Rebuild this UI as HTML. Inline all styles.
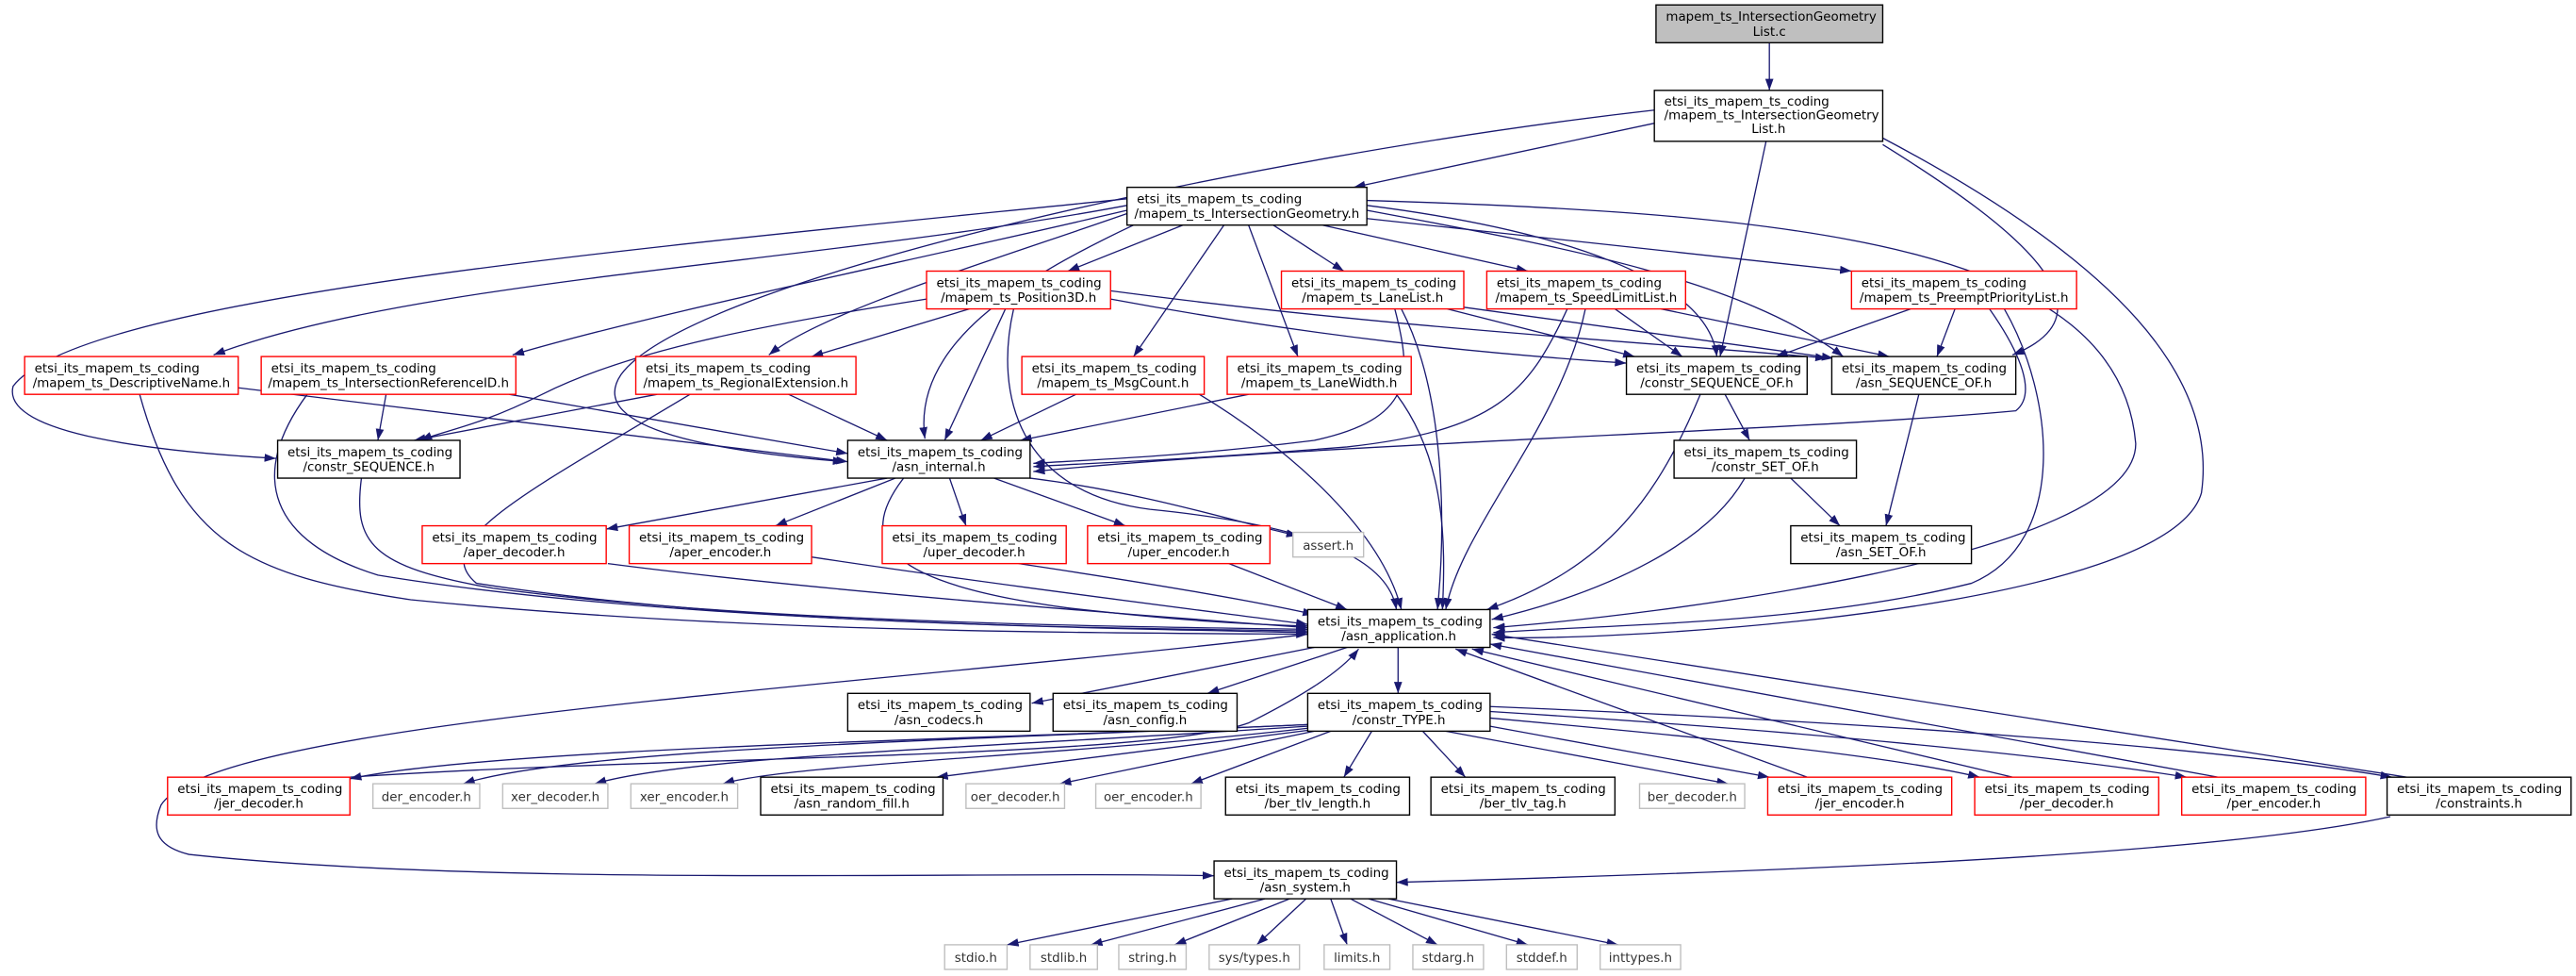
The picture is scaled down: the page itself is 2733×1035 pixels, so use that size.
<!DOCTYPE html>
<html><head><meta charset="utf-8"><style>
html,body{margin:0;padding:0;background:#fff;}
svg{display:block;}
text{font-family:"DejaVu Sans","Liberation Sans",sans-serif;font-size:7.7px;fill:#000;}
.g text{fill:#333;}
.e{fill:none;stroke:#191970;stroke-width:0.75;marker-end:url(#a);}
.b{fill:#fff;stroke:#000;stroke-width:0.8;}
.r{fill:#fff;stroke:#ff0000;stroke-width:0.8;}
.gy{fill:#fff;stroke:#bfbfbf;stroke-width:0.8;}
</style></head><body>
<svg width="2733" height="1035" viewBox="0 0 1568 594" preserveAspectRatio="none" xmlns="http://www.w3.org/2000/svg">
<defs><marker id="a" markerUnits="userSpaceOnUse" markerWidth="7" markerHeight="6" refX="7" refY="2.5" orient="auto"><path d="M0,0 L7,2.5 L0,5 z" fill="#191970"/></marker></defs>
<g>
<path class="e" d="M1077,26 L1077,55"/>
<path class="e" d="M1007,75 L824,114"/>
<path class="e" d="M1007,67 C760,95 420,170 378,228 C355,262 440,275 514,281"/>
<path class="e" d="M1075,86 L1047,217"/>
<path class="e" d="M1146,88 C1230,140 1290,190 1225,216"/>
<path class="e" d="M1146,84 C1290,160 1350,230 1340,300 C1320,370 1000,390 909,388"/>
<path class="e" d="M686,125 C500,160 250,170 130,216"/>
<path class="e" d="M686,128 C550,160 400,190 312,216"/>
<path class="e" d="M686,121 C400,150 50,180 8,235 C0,265 100,275 168,279"/>
<path class="e" d="M686,130 C600,160 500,190 468,216"/>
<path class="e" d="M720,137 L650,165"/>
<path class="e" d="M690,137 C620,170 555,210 563,267"/>
<path class="e" d="M745,137 L690,217"/>
<path class="e" d="M760,137 L790,217"/>
<path class="e" d="M775,137 L818,165"/>
<path class="e" d="M805,137 L930,165"/>
<path class="e" d="M832,133 L1127,165"/>
<path class="e" d="M832,125 C950,140 1040,170 1045,217"/>
<path class="e" d="M832,128 C950,150 1060,170 1122,217"/>
<path class="e" d="M832,122 C1100,130 1290,150 1300,270 C1300,340 1000,375 909,382"/>
<path class="e" d="M590,188 L494,217"/>
<path class="e" d="M564,182 C450,200 380,215 330,240 C290,260 270,262 256,268"/>
<path class="e" d="M612,188 L575,268"/>
<path class="e" d="M617,188 C605,240 620,300 700,310 C800,320 845,340 850,371"/>
<path class="e" d="M676,182 C800,205 900,215 990,221"/>
<path class="e" d="M676,177 C850,200 1000,208 1112,218"/>
<path class="e" d="M881,188 L995,217"/>
<path class="e" d="M891,187 L1116,218"/>
<path class="e" d="M849,188 C860,230 860,255 800,268 C720,278 660,280 629,282"/>
<path class="e" d="M853,188 C880,240 880,320 875,371"/>
<path class="e" d="M954,188 C930,240 910,262 820,272 C720,280 660,282 629,284"/>
<path class="e" d="M965,188 C950,260 890,320 880,371"/>
<path class="e" d="M983,188 L1024,217"/>
<path class="e" d="M1011,188 L1150,217"/>
<path class="e" d="M1163,188 L1081,217"/>
<path class="e" d="M1190,188 L1179,217"/>
<path class="e" d="M1211,188 C1230,215 1240,240 1227,250 C1100,262 800,270 629,287"/>
<path class="e" d="M1220,188 C1250,240 1260,330 1200,355 C1100,380 980,380 909,385"/>
<path class="e" d="M1050,240 L1065,268"/>
<path class="e" d="M1035,240 C1010,300 980,345 905,371"/>
<path class="e" d="M1168,240 L1148,320"/>
<path class="e" d="M1090,291 L1120,320"/>
<path class="e" d="M1062,291 C1040,330 980,360 908,377"/>
<path class="e" d="M655,240 L597,268"/>
<path class="e" d="M730,240 C780,270 840,320 853,371"/>
<path class="e" d="M760,240 L621,268"/>
<path class="e" d="M850,240 C880,280 880,330 878,371"/>
<path class="e" d="M145,236 L516,281"/>
<path class="e" d="M85,240 C110,330 150,350 250,365 C450,385 650,385 796,386"/>
<path class="e" d="M235,240 L230,268"/>
<path class="e" d="M310,240 L516,276"/>
<path class="e" d="M187,240 C150,290 165,330 230,350 C400,378 650,382 796,385"/>
<path class="e" d="M400,240 L252,268"/>
<path class="e" d="M480,240 L540,268"/>
<path class="e" d="M420,240 C320,300 260,330 290,355 C450,380 650,382 796,384"/>
<path class="e" d="M220,291 C215,330 225,345 300,358 C450,378 650,381 796,383"/>
<path class="e" d="M540,291 L369,322"/>
<path class="e" d="M545,291 L472,320"/>
<path class="e" d="M578,291 L588,320"/>
<path class="e" d="M605,291 L685,320"/>
<path class="e" d="M627,291 C700,300 760,320 790,326"/>
<path class="e" d="M550,291 C520,330 540,355 650,370 C720,378 760,380 796,381"/>
<path class="e" d="M370,343 C500,360 700,375 796,382"/>
<path class="e" d="M494,339 C600,355 720,370 796,380"/>
<path class="e" d="M620,343 C700,355 760,365 800,374"/>
<path class="e" d="M748,343 L820,371"/>
<path class="e" d="M800,394 L628,428"/>
<path class="e" d="M820,394 L735,422"/>
<path class="e" d="M851,394 L851,422"/>
<path class="e" d="M796,386 C500,420 130,440 98,490 C92,505 95,515 115,520 C300,540 600,530 739,533"/>
<path class="e" d="M1455,497 C1350,520 1100,530 850,537"/>
<path class="e" d="M796,441 C600,450 300,455 213,474"/>
<path class="e" d="M796,441 C600,450 350,455 282,477"/>
<path class="e" d="M796,442 C600,455 420,460 362,477"/>
<path class="e" d="M798,443 C650,460 480,465 440,477"/>
<path class="e" d="M800,444 L570,473"/>
<path class="e" d="M800,445 L645,477"/>
<path class="e" d="M810,445 L725,477"/>
<path class="e" d="M835,445 L818,473"/>
<path class="e" d="M866,445 L892,473"/>
<path class="e" d="M880,445 L1052,477"/>
<path class="e" d="M907,442 L1077,473"/>
<path class="e" d="M907,437 C1050,450 1150,460 1205,473"/>
<path class="e" d="M907,433 C1100,445 1250,460 1331,473"/>
<path class="e" d="M907,430 C1150,440 1350,455 1456,473"/>
<path class="e" d="M213,473 C400,460 700,462 760,440 C790,425 815,410 827,395"/>
<path class="e" d="M1100,473 L886,395"/>
<path class="e" d="M1225,473 L896,395"/>
<path class="e" d="M1350,473 L907,392"/>
<path class="e" d="M1465,473 L908,386"/>
<path class="e" d="M750,547 L613,575"/>
<path class="e" d="M770,547 L664,575"/>
<path class="e" d="M785,547 L715,575"/>
<path class="e" d="M795,547 L765,575"/>
<path class="e" d="M810,547 L820,575"/>
<path class="e" d="M822,547 L875,575"/>
<path class="e" d="M833,547 L930,575"/>
<path class="e" d="M845,547 L985,575"/>
</g>
<g>
<rect x="1008" y="3" width="138" height="23" fill="#bfbfbf" stroke="#000" stroke-width="0.8"/>
<text x="1014" y="12.7">mapem_ts_IntersectionGeometry</text><text x="1077" y="21.7" text-anchor="middle">List.c</text>
<rect class="b" x="1007" y="55" width="139" height="31"/>
<text x="1013" y="64.3">etsi_its_mapem_ts_coding</text><text x="1013" y="72.7">/mapem_ts_IntersectionGeometry</text><text x="1076.5" y="80.9" text-anchor="middle">List.h</text>
<rect class="b" x="686" y="114" width="146" height="23"/>
<text x="692" y="123.7">etsi_its_mapem_ts_coding</text><text x="759" y="132.7" text-anchor="middle">/mapem_ts_IntersectionGeometry.h</text>
</g>
<g>
<rect class="r" x="564" y="165" width="112" height="23"/><text x="570" y="174.7">etsi_its_mapem_ts_coding</text><text x="620" y="183.7" text-anchor="middle">/mapem_ts_Position3D.h</text>
<rect class="r" x="780" y="165" width="111" height="23"/><text x="786" y="174.7">etsi_its_mapem_ts_coding</text><text x="835.5" y="183.7" text-anchor="middle">/mapem_ts_LaneList.h</text>
<rect class="r" x="905" y="165" width="121" height="23"/><text x="911" y="174.7">etsi_its_mapem_ts_coding</text><text x="965.5" y="183.7" text-anchor="middle">/mapem_ts_SpeedLimitList.h</text>
<rect class="r" x="1127" y="165" width="137" height="23"/><text x="1133" y="174.7">etsi_its_mapem_ts_coding</text><text x="1195.5" y="183.7" text-anchor="middle">/mapem_ts_PreemptPriorityList.h</text>
<rect class="r" x="15" y="217" width="130" height="23"/><text x="21" y="226.7">etsi_its_mapem_ts_coding</text><text x="80" y="235.7" text-anchor="middle">/mapem_ts_DescriptiveName.h</text>
<rect class="r" x="159" y="217" width="155" height="23"/><text x="165" y="226.7">etsi_its_mapem_ts_coding</text><text x="236.5" y="235.7" text-anchor="middle">/mapem_ts_IntersectionReferenceID.h</text>
<rect class="r" x="387" y="217" width="134" height="23"/><text x="393" y="226.7">etsi_its_mapem_ts_coding</text><text x="454" y="235.7" text-anchor="middle">/mapem_ts_RegionalExtension.h</text>
<rect class="r" x="622" y="217" width="111" height="23"/><text x="628" y="226.7">etsi_its_mapem_ts_coding</text><text x="677.5" y="235.7" text-anchor="middle">/mapem_ts_MsgCount.h</text>
<rect class="r" x="747" y="217" width="112" height="23"/><text x="753" y="226.7">etsi_its_mapem_ts_coding</text><text x="803" y="235.7" text-anchor="middle">/mapem_ts_LaneWidth.h</text>
<rect class="b" x="990" y="217" width="110" height="23"/><text x="996" y="226.7">etsi_its_mapem_ts_coding</text><text x="1045" y="235.7" text-anchor="middle">/constr_SEQUENCE_OF.h</text>
<rect class="b" x="1115" y="217" width="112" height="23"/><text x="1121" y="226.7">etsi_its_mapem_ts_coding</text><text x="1171" y="235.7" text-anchor="middle">/asn_SEQUENCE_OF.h</text>
<rect class="b" x="169" y="268" width="111" height="23"/><text x="175" y="277.7">etsi_its_mapem_ts_coding</text><text x="224.5" y="286.7" text-anchor="middle">/constr_SEQUENCE.h</text>
<rect class="b" x="516" y="268" width="111" height="23"/><text x="522" y="277.7">etsi_its_mapem_ts_coding</text><text x="571.5" y="286.7" text-anchor="middle">/asn_internal.h</text>
<rect class="b" x="1019" y="268" width="111" height="23"/><text x="1025" y="277.7">etsi_its_mapem_ts_coding</text><text x="1074.5" y="286.7" text-anchor="middle">/constr_SET_OF.h</text>
<rect class="r" x="257" y="320" width="112" height="23"/><text x="263" y="329.7">etsi_its_mapem_ts_coding</text><text x="313" y="338.7" text-anchor="middle">/aper_decoder.h</text>
<rect class="r" x="383" y="320" width="111" height="23"/><text x="389" y="329.7">etsi_its_mapem_ts_coding</text><text x="438.5" y="338.7" text-anchor="middle">/aper_encoder.h</text>
<rect class="r" x="537" y="320" width="112" height="23"/><text x="543" y="329.7">etsi_its_mapem_ts_coding</text><text x="593" y="338.7" text-anchor="middle">/uper_decoder.h</text>
<rect class="r" x="662" y="320" width="111" height="23"/><text x="668" y="329.7">etsi_its_mapem_ts_coding</text><text x="717.5" y="338.7" text-anchor="middle">/uper_encoder.h</text>
<g class="g"><rect class="gy" x="787" y="324" width="43" height="15"/><text x="808.5" y="334.5" text-anchor="middle">assert.h</text></g>
<rect class="b" x="1090" y="320" width="110" height="23"/><text x="1096" y="329.7">etsi_its_mapem_ts_coding</text><text x="1145" y="338.7" text-anchor="middle">/asn_SET_OF.h</text>
<rect class="b" x="796" y="371" width="111" height="23"/><text x="802" y="380.7">etsi_its_mapem_ts_coding</text><text x="851.5" y="389.7" text-anchor="middle">/asn_application.h</text>
<rect class="b" x="516" y="422" width="111" height="23"/><text x="522" y="431.7">etsi_its_mapem_ts_coding</text><text x="571.5" y="440.7" text-anchor="middle">/asn_codecs.h</text>
<rect class="b" x="641" y="422" width="112" height="23"/><text x="647" y="431.7">etsi_its_mapem_ts_coding</text><text x="697" y="440.7" text-anchor="middle">/asn_config.h</text>
<rect class="b" x="796" y="422" width="111" height="23"/><text x="802" y="431.7">etsi_its_mapem_ts_coding</text><text x="851.5" y="440.7" text-anchor="middle">/constr_TYPE.h</text>
<rect class="r" x="102" y="473" width="111" height="23"/><text x="108" y="482.7">etsi_its_mapem_ts_coding</text><text x="157.5" y="491.7" text-anchor="middle">/jer_decoder.h</text>
<g class="g">
<rect class="gy" x="227" y="477" width="65" height="15"/><text x="259.5" y="487.5" text-anchor="middle">der_encoder.h</text>
<rect class="gy" x="306" y="477" width="64" height="15"/><text x="338" y="487.5" text-anchor="middle">xer_decoder.h</text>
<rect class="gy" x="384" y="477" width="65" height="15"/><text x="416.5" y="487.5" text-anchor="middle">xer_encoder.h</text>
<rect class="gy" x="588" y="477" width="60" height="15"/><text x="618" y="487.5" text-anchor="middle">oer_decoder.h</text>
<rect class="gy" x="667" y="477" width="64" height="15"/><text x="699" y="487.5" text-anchor="middle">oer_encoder.h</text>
<rect class="gy" x="998" y="477" width="64" height="15"/><text x="1030" y="487.5" text-anchor="middle">ber_decoder.h</text>
</g>
<rect class="b" x="463" y="473" width="111" height="23"/><text x="469" y="482.7">etsi_its_mapem_ts_coding</text><text x="518.5" y="491.7" text-anchor="middle">/asn_random_fill.h</text>
<rect class="b" x="746" y="473" width="112" height="23"/><text x="752" y="482.7">etsi_its_mapem_ts_coding</text><text x="802" y="491.7" text-anchor="middle">/ber_tlv_length.h</text>
<rect class="b" x="871" y="473" width="112" height="23"/><text x="877" y="482.7">etsi_its_mapem_ts_coding</text><text x="927" y="491.7" text-anchor="middle">/ber_tlv_tag.h</text>
<rect class="r" x="1076" y="473" width="112" height="23"/><text x="1082" y="482.7">etsi_its_mapem_ts_coding</text><text x="1132" y="491.7" text-anchor="middle">/jer_encoder.h</text>
<rect class="r" x="1202" y="473" width="112" height="23"/><text x="1208" y="482.7">etsi_its_mapem_ts_coding</text><text x="1258" y="491.7" text-anchor="middle">/per_decoder.h</text>
<rect class="r" x="1328" y="473" width="112" height="23"/><text x="1334" y="482.7">etsi_its_mapem_ts_coding</text><text x="1384" y="491.7" text-anchor="middle">/per_encoder.h</text>
<rect class="b" x="1453" y="473" width="112" height="23"/><text x="1459" y="482.7">etsi_its_mapem_ts_coding</text><text x="1509" y="491.7" text-anchor="middle">/constraints.h</text>
<rect class="b" x="739" y="524" width="111" height="23"/><text x="745" y="533.7">etsi_its_mapem_ts_coding</text><text x="794.5" y="542.7" text-anchor="middle">/asn_system.h</text>
<g class="g">
<rect class="gy" x="575" y="575" width="38" height="15"/><text x="594" y="585.5" text-anchor="middle">stdio.h</text>
<rect class="gy" x="627" y="575" width="41" height="15"/><text x="647.5" y="585.5" text-anchor="middle">stdlib.h</text>
<rect class="gy" x="681" y="575" width="41" height="15"/><text x="701.5" y="585.5" text-anchor="middle">string.h</text>
<rect class="gy" x="736" y="575" width="55" height="15"/><text x="763.5" y="585.5" text-anchor="middle">sys/types.h</text>
<rect class="gy" x="806" y="575" width="40" height="15"/><text x="826" y="585.5" text-anchor="middle">limits.h</text>
<rect class="gy" x="860" y="575" width="43" height="15"/><text x="881.5" y="585.5" text-anchor="middle">stdarg.h</text>
<rect class="gy" x="917" y="575" width="43" height="15"/><text x="938.5" y="585.5" text-anchor="middle">stddef.h</text>
<rect class="gy" x="974" y="575" width="49" height="15"/><text x="998.5" y="585.5" text-anchor="middle">inttypes.h</text>
</g>
</g>
</svg>
</body></html>
